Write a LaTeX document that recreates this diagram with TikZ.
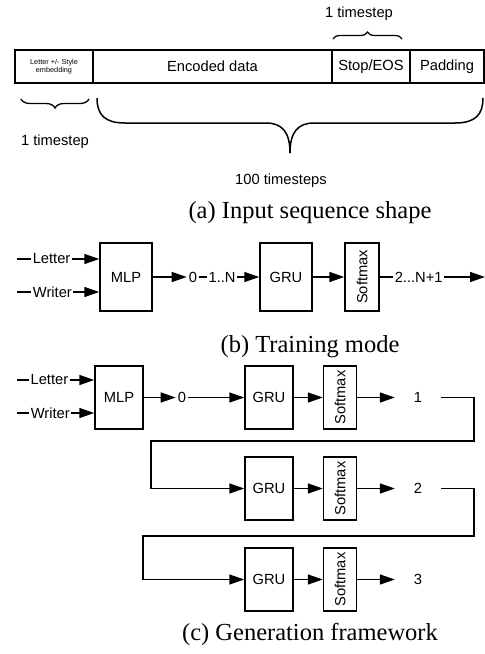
\documentclass[tikz,border=0pt]{standalone}
\usepackage{fontspec}
\setmainfont{Liberation Serif}
\setsansfont{Liberation Sans}
\usetikzlibrary{arrows.meta,decorations.pathreplacing,calc}
\begin{document}
\begin{tikzpicture}[x=1pt,y=-1pt,
  every node/.style={font=\sffamily\fontsize{14.7}{17}\selectfont, inner sep=0pt},
  cell/.style={draw, line width=1.7pt, minimum height=33pt},
  blk/.style={draw, line width=1.5pt},
  mlpB/.style={blk, minimum width=52pt, minimum height=68pt},
  smB/.style={blk, minimum width=34pt, minimum height=68pt},
  mlpC/.style={blk, minimum width=48pt, minimum height=63pt},
  smC/.style={blk, minimum width=33pt, minimum height=63pt},
  arr/.style={line width=1.5pt, -{Triangle[length=15pt,width=10pt]}},
  lbl/.style={fill=white, inner xsep=1.5pt, inner ysep=1pt},
  outn/.style={minimum width=46pt},
  captxt/.style={font=\rmfamily\fontsize{24.5}{28}\selectfont},
  brc/.style={line width=1.3pt, decorate},
]
\useasboundingbox (0,0) rectangle (485,654);

% ---------- (a) ----------
\node[cell, minimum width=78pt, align=center, font=\sffamily\fontsize{7.3}{8.3}\selectfont] (c1) at (54,66.5) {Letter +/- Style\\embedding};
\node[cell, minimum width=239pt] (c2) at (212.5,66.5) {Encoded data};
\node[cell, minimum width=78pt] (c3) at (371,66.5) {Stop/EOS};
\node[cell, minimum width=74pt] (c4) at (447,66.5) {Padding};

\draw[brc, decoration={brace, amplitude=7pt}] (333,39) -- (402,39);
\draw[brc, decoration={brace, amplitude=9pt}] (89,99) -- (21,99);
\draw[line width=1.5pt] (97,98) .. controls (97,115) and (105,123) .. (125,123) -- (266,123)
  .. controls (282,123) and (290,132) .. (290,153);
\draw[line width=1.5pt] (290,153) .. controls (290,132) and (298,123) .. (314,123) -- (455,123)
  .. controls (475,123) and (483,115) .. (483,98);

\node (t1) at (359,14) {1 timestep};
\node (t2) at (55,142) {1 timestep};
\node (t3) at (281,181) {100 timesteps};
\node[captxt] (capa) at (310,213) {(a) Input sequence shape};

% ---------- (b) ----------
\node[mlpB] (mlpb) at (126,277) {MLP};
\node[mlpB] (grub) at (286,277) {GRU};
\node[smB] (smb) at (362,277) {\rotatebox{90}{Softmax}};
\node[inner sep=2pt] (z0b) at (193,277) {0};
\coordinate (lb) at (17,259);
\coordinate (wb) at (17,292);
\coordinate (endb) at (485,277);

\draw[arr] (lb) -- (lb -| mlpb.west) node[lbl, pos=0.42] (lbll) {Letter};
\draw[arr] (wb) -- (wb -| mlpb.west) node[lbl, pos=0.43] (lblw) {Writer};
\draw[arr] (mlpb.east) -- (z0b.west);
\draw[arr] (z0b.east) -- (grub.west) node[lbl, pos=0.38] (lbln) {1..N};
\draw[arr] (grub.east) -- (smb.west);
\draw[arr] (smb.east) -- (endb) node[lbl, pos=0.37] (lbln2) {2...N+1};

\node[captxt] (capb) at (310,347) {(b) Training mode};

% ---------- (c) ----------
\node[mlpC] (mlpc) at (119,397.5) {MLP};
\node[inner sep=2pt] (z0c) at (182,397.5) {0};
\node[mlpC] (gru1) at (269,397.5) {GRU};
\node[smC] (sm1) at (340,397.5) {\rotatebox{90}{Softmax}};
\node[outn] (n1) at (418,397.5) {1};
\node[mlpC] (gru2) at (269,488.5) {GRU};
\node[smC] (sm2) at (340,488.5) {\rotatebox{90}{Softmax}};
\node[outn] (n2) at (418,488.5) {2};
\node[mlpC] (gru3) at (269,579.5) {GRU};
\node[smC] (sm3) at (340,579.5) {\rotatebox{90}{Softmax}};
\node[outn] (n3) at (418,579.5) {3};
\coordinate (lc) at (17,380);
\coordinate (wc) at (17,413);

\draw[arr] (lc) -- (lc -| mlpc.west) node[lbl, pos=0.42] (lcll) {Letter};
\draw[arr] (wc) -- (wc -| mlpc.west) node[lbl, pos=0.43] (lclw) {Writer};
\draw[arr] (mlpc.east) -- (z0c.west);
\draw[arr] (z0c.east) -- (gru1.west);
\draw[arr] (gru1.east) -- (sm1.west);
\draw[arr] (sm1.east) -- (n1.west);
\draw[arr] (n1.east) -- ++(33,0) |- (151,441) |- (gru2.west);
\draw[arr] (gru2.east) -- (sm2.west);
\draw[arr] (sm2.east) -- (n2.west);
\draw[arr] (n2.east) -- ++(33,0) |- (143,536) |- (gru3.west);
\draw[arr] (gru3.east) -- (sm3.west);
\draw[arr] (sm3.east) -- (n3.west);

\node[captxt] (capc) at (310,634) {(c) Generation framework};
\end{tikzpicture}
\end{document}
